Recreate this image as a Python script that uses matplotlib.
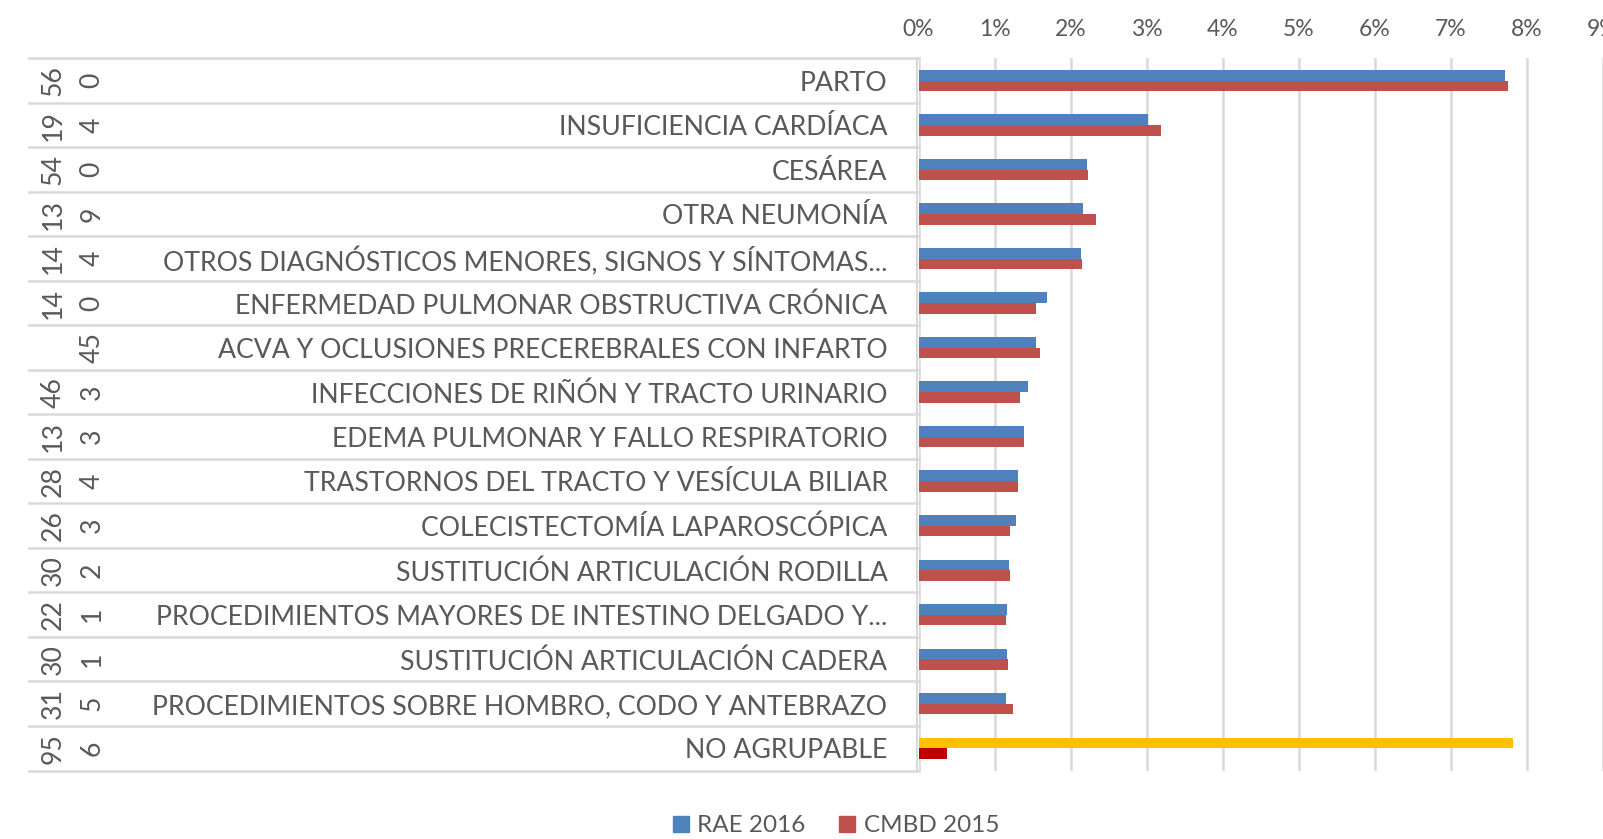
import matplotlib
matplotlib.use("Agg")
import matplotlib.pyplot as plt
from matplotlib.patches import Patch

plt.rcParams['font.family'] = ['Lato', 'DejaVu Sans']

categories = [
    "PARTO",
    "INSUFICIENCIA CARDÍACA",
    "CESÁREA",
    "OTRA NEUMONÍA",
    "OTROS DIAGNÓSTICOS MENORES, SIGNOS Y SÍNTOMAS...",
    "ENFERMEDAD PULMONAR OBSTRUCTIVA CRÓNICA",
    "ACVA Y OCLUSIONES PRECEREBRALES CON INFARTO",
    "INFECCIONES DE RIÑÓN Y TRACTO URINARIO",
    "EDEMA PULMONAR Y FALLO RESPIRATORIO",
    "TRASTORNOS DEL TRACTO Y VESÍCULA BILIAR",
    "COLECISTECTOMÍA LAPAROSCÓPICA",
    "SUSTITUCIÓN ARTICULACIÓN RODILLA",
    "PROCEDIMIENTOS MAYORES DE INTESTINO DELGADO Y...",
    "SUSTITUCIÓN ARTICULACIÓN CADERA",
    "PROCEDIMIENTOS SOBRE HOMBRO, CODO Y ANTEBRAZO",
    "NO AGRUPABLE",
]
code_level1 = ["56", "19", "54", "13", "14", "14", "", "46", "13", "28", "26", "30", "22", "30", "31", "95"]
code_level2 = ["0", "4", "0", "9", "4", "0", "45", "3", "3", "4", "3", "2", "1", "1", "5", "6"]

rae_2016 = [7.72, 3.02, 2.22, 2.16, 2.14, 1.69, 1.55, 1.44, 1.39, 1.31, 1.28, 1.19, 1.16, 1.16, 1.15, 7.82]
cmbd_2015 = [7.76, 3.19, 2.23, 2.34, 2.15, 1.55, 1.60, 1.34, 1.39, 1.31, 1.21, 1.20, 1.15, 1.18, 1.24, 0.38]

x_ticks = [0, 1, 2, 3, 4, 5, 6, 7, 8, 9]
x_tick_labels = ["0%", "1%", "2%", "3%", "4%", "5%", "6%", "7%", "8%", "9%"]
legend_labels = ["RAE 2016", "CMBD 2015"]

BLUE = "#4F81BD"
RED = "#C0504D"
YELLOW = "#FFC000"
DARKRED = "#C00000"
GRID = "#D9D9D9"
TEXT = "#595959"

W, H = 1603, 839
fig = plt.figure(figsize=(W / 100, H / 100), dpi=100)
x0, x1 = 918.5, 1602.5
ytop, ybot = 58.3, 770.5
ax = fig.add_axes([x0 / W, 1 - ybot / H, (x1 - x0) / W, (ybot - ytop) / H])

n = len(categories)
ys = list(range(n))
bh = 0.24
blue_colors = [BLUE] * (n - 1) + [YELLOW]
red_colors = [RED] * (n - 1) + [DARKRED]
ax.barh([y - bh / 2 for y in ys], rae_2016, height=bh, color=blue_colors, zorder=3)
ax.barh([y + bh / 2 for y in ys], cmbd_2015, height=bh, color=red_colors, zorder=3)

ax.set_xlim(0, 9)
ax.set_ylim(n - 0.5, -0.5)
ax.set_xticks(x_ticks)
ax.set_xticklabels(x_tick_labels)
ax.xaxis.tick_top()
ax.tick_params(axis='x', length=0, pad=13, labelsize=16.5, labelcolor=TEXT)
ax.set_yticks([])
for s in ax.spines.values():
    s.set_visible(False)
ax.grid(axis='x', color=GRID, lw=1.8, zorder=0)
ax.set_axisbelow(True)

px = lambda p: (p - x0) / (x1 - x0)
ytr = ax.get_yaxis_transform()

# table horizontal lines
for b in [i - 0.5 for i in range(n + 1)]:
    ax.plot([px(29), 0], [b, b], transform=ytr, color=GRID, lw=1.8, clip_on=False, zorder=1)
ax.plot([px(916.5), px(916.5)], [-0.5, n - 0.5], transform=ytr, color=GRID, lw=1.5, clip_on=False, zorder=1)

for i in ys:
    ax.text(px(887.5), i + 0.06, categories[i], transform=ytr, ha='right', va='center',
            fontsize=19.2, color=TEXT)
    if code_level1[i]:
        ax.text(px(53), i, code_level1[i], transform=ytr, ha='center', va='center',
                rotation=90, fontsize=19.2, color=TEXT)
    ax.text(px(92), i, code_level2[i], transform=ytr, ha='center', va='center',
            rotation=90, fontsize=19.2, color=TEXT)

handles = [Patch(color=BLUE), Patch(color=RED)]
fig.legend(handles, legend_labels, loc='center', bbox_to_anchor=(836 / W, 1 - 826 / H),
           ncol=2, frameon=False, fontsize=17.5, labelcolor=TEXT,
           handlelength=0.65, handleheight=0.65, handletextpad=0.35, columnspacing=1.4)

fig.savefig("out.png", dpi=100, facecolor="white")
